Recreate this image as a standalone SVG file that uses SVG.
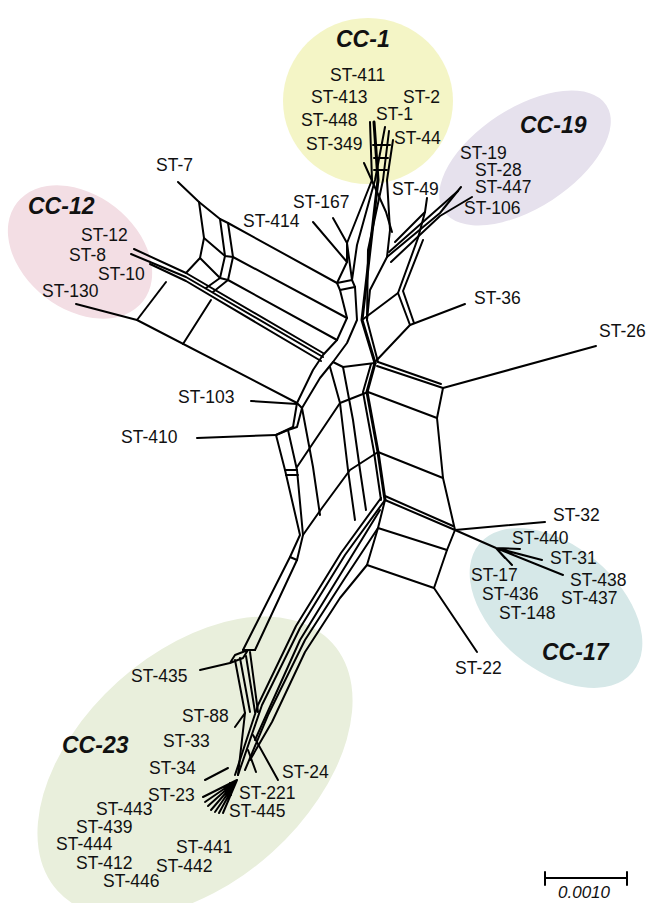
<svg xmlns="http://www.w3.org/2000/svg" width="652" height="903" viewBox="0 0 652 903">
<style>
.lbl{font-family:"Liberation Sans",Arial,sans-serif;font-size:17.5px;fill:#111}
.cc{font-family:"Liberation Sans",Arial,sans-serif;font-size:23px;font-weight:bold;font-style:italic;fill:#111}
.net path{fill:none;stroke:#000;stroke-width:2;stroke-linejoin:round;stroke-linecap:round}
.net path.thick{stroke-width:3}
.sc{font-family:"Liberation Sans",Arial,sans-serif;font-size:17px;font-style:italic;fill:#111}
</style>
<rect width="652" height="903" fill="#fff"/>
<g id="clusters">
<ellipse id="cc1" cx="368" cy="101" rx="85" ry="83" fill="#f4f5c6"/>
<ellipse id="cc19" cx="525" cy="158" rx="97" ry="50" transform="rotate(-33 525 158)" fill="#e6e1ed"/>
<ellipse id="cc12" cx="80" cy="252" rx="80" ry="57" transform="rotate(38 80 252)" fill="#f3dee4"/>
<ellipse id="cc17" cx="556" cy="608" rx="100" ry="62" transform="rotate(40 556 608)" fill="#d6e8e8"/>
<ellipse id="cc23" cx="195" cy="767" rx="185" ry="115" transform="rotate(-42 195 767)" fill="#e9efdc"/>
</g>
<g id="connectors" class="net">
<path d="M178,182 L199,202 L220,219 L228,223 L337,283"/>
<path d="M199,202 L204,238 L200,258 L186,273"/>
<path d="M220,219 L225,256 L220,278 L206,288"/>
<path d="M228,223 L233,257 L228,280 L213,292"/>
<path d="M204,238 L225,256 L233,257 L347,318"/>
<path d="M200,258 L220,278 L228,280 L337,340"/>
<path d="M134,249 L186,273 L323,353"/>
<path d="M131,254 L186,277 L323,357"/>
<path d="M150,264 L186,281 L321,361"/>
<path d="M76,304 L137,320 L297,403"/>
<path d="M137,320 L166,282"/>
<path d="M183,344 L211,300"/>
<path d="M251,401 L297,404"/>
<path d="M197,438 L276,435"/>
<path d="M337,283 L340,290 L347,318 L337,340 L323,355 L313,370 L297,403 L293,427 L276,435 L285,470 L300,535 L290,557 L243,650"/>
<path d="M352,280 L355,287 L357,320 L347,343 L333,362 L320,378 L302,408 L297,427 L288,430 L297,470 L303,535 L297,560 L255,650"/>
<path d="M340,290 L355,287 M337,283 L352,280 M297,403 L302,408 M276,435 L288,430 M285,470 L297,470 M286,475 L298,475 M290,557 L297,560 M243,650 L255,650"/>
<path d="M333,218 L347,243 L352,280"/>
<path d="M313,222 L347,262 L337,283"/>
<path d="M347,243 L347,262"/>
<path d="M370,122 L372,180 L347,243"/>
<path class="thick" d="M374,122 L378,180 L362,320 L375,363"/>
<path d="M385,127 L375,180 L357,245 L352,280"/>
<path d="M389,131 L383,180 L368,250 L367,320 L378,362"/>
<path d="M393,140 L387,180 L390,230 L387,257"/>
<path d="M364,163 L386,212 L392,232"/>
<path d="M373,145 L390,145 M374,158 L388,158 M374,170 L387,170"/>
<path d="M461,187 L440,213 L387,257"/>
<path d="M472,197 L440,216 L391,262"/>
<path d="M458,191 L389,252"/>
<path d="M427,198 L425,212 L395,242"/>
<path d="M425,212 L418,238 L398,293 L410,325"/>
<path d="M423,240 L403,291 L414,323"/>
<path d="M398,293 L362,320"/>
<path d="M387,257 L370,290 L367,320"/>
<path d="M465,304 L410,325 L375,362"/>
<path d="M596,346 L443,388 L377,366"/>
<path d="M441,384 L378,362"/>
<path d="M443,388 L437,418 L443,478 L455,530"/>
<path d="M437,418 L368,392 L340,403 L297,467"/>
<path d="M443,478 L378,452 L350,470 L322,508 L303,535"/>
<path class="thick" d="M375,363 L367,392 L378,452 L385,500"/>
<path d="M371,364 L363,392 L374,452 L381,500"/>
<path d="M455,530 L385,500"/>
<path d="M453,526 L385,496"/>
<path d="M455,530 L545,522"/>
<path d="M455,530 L447,550 L434,588 L477,652"/>
<path d="M447,550 L378,528"/>
<path d="M434,588 L367,565"/>
<path d="M455,530 L496,548 L520,549 M496,548 L542,560 M496,548 L563,575 M496,548 L512,565 M496,548 L505,558"/>
<path d="M333,362 L343,367 L375,363"/>
<path d="M330,367 L340,403 L348,470 L355,520"/>
<path d="M343,367 L353,420 L360,470 L366,510"/>
<path d="M302,408 L313,467 L320,515"/>
<path d="M385,500 L378,528 L367,565"/>
<path d="M385,500 L345,555 L300,628 L262,705 L238,775"/>
<path d="M381,498 L341,553 L296,626 L258,705 L235,775"/>
<path d="M378,528 L345,578 L305,640 L268,715 L245,770"/>
<path d="M367,565 L340,598 L305,652 L272,722 L250,760"/>
<path d="M380,510 L300,640 L255,740"/>
<path d="M200,670 L230,663 L235,655 L248,650 L243,658 L230,663"/>
<path d="M235,660 L245,713 M240,658 L250,712 M246,656 L255,712 M250,652 L258,712"/>
<path d="M235,727 L245,713 L238,775"/>
<path d="M205,780 L228,768"/>
<path d="M278,780 L253,735"/>
<path d="M256,772 L248,750"/>
<path d="M230,783 L231,795"/>
<path d="M237,780 L203,797 M237,780 L205,802 M237,780 L208,806 M237,780 L211,810 M237,780 L215,812 M237,780 L219,813 M237,780 L223,813"/>
<path d="M545,878 L627,878 M545,872 L545,885 M627,872 L627,885"/>
</g>
<g id="labels">
<text class="cc" x="336" y="47">CC-1</text>
<text class="lbl" x="330" y="81">ST-411</text>
<text class="lbl" x="311" y="103">ST-413</text>
<text class="lbl" x="403" y="103">ST-2</text>
<text class="lbl" x="376" y="120">ST-1</text>
<text class="lbl" x="301" y="126">ST-448</text>
<text class="lbl" x="394" y="144">ST-44</text>
<text class="lbl" x="306" y="150">ST-349</text>
<text class="lbl" x="392" y="195">ST-49</text>
<text class="lbl" x="293" y="208">ST-167</text>
<text class="lbl" x="243" y="227">ST-414</text>
<text class="lbl" x="156" y="171">ST-7</text>
<text class="cc" x="520" y="133">CC-19</text>
<text class="lbl" x="460" y="159">ST-19</text>
<text class="lbl" x="475" y="176">ST-28</text>
<text class="lbl" x="475" y="193">ST-447</text>
<text class="lbl" x="464" y="214">ST-106</text>
<text class="cc" x="28" y="214">CC-12</text>
<text class="lbl" x="81" y="241">ST-12</text>
<text class="lbl" x="69" y="261">ST-8</text>
<text class="lbl" x="98" y="280">ST-10</text>
<text class="lbl" x="42" y="297">ST-130</text>
<text class="lbl" x="474" y="304">ST-36</text>
<text class="lbl" x="599" y="337">ST-26</text>
<text class="lbl" x="178" y="403">ST-103</text>
<text class="lbl" x="121" y="443">ST-410</text>
<text class="lbl" x="553" y="521">ST-32</text>
<text class="lbl" x="512" y="544">ST-440</text>
<text class="lbl" x="550" y="564">ST-31</text>
<text class="lbl" x="471" y="581">ST-17</text>
<text class="lbl" x="570" y="586">ST-438</text>
<text class="lbl" x="482" y="600">ST-436</text>
<text class="lbl" x="561" y="604">ST-437</text>
<text class="lbl" x="499" y="619">ST-148</text>
<text class="cc" x="542" y="660">CC-17</text>
<text class="lbl" x="455" y="674">ST-22</text>
<text class="lbl" x="131" y="682">ST-435</text>
<text class="lbl" x="182" y="722">ST-88</text>
<text class="cc" x="62" y="753">CC-23</text>
<text class="lbl" x="163" y="747">ST-33</text>
<text class="lbl" x="149" y="774">ST-34</text>
<text class="lbl" x="282" y="778">ST-24</text>
<text class="lbl" x="148" y="801">ST-23</text>
<text class="lbl" x="239" y="799">ST-221</text>
<text class="lbl" x="229" y="817">ST-445</text>
<text class="lbl" x="96" y="815">ST-443</text>
<text class="lbl" x="76" y="833">ST-439</text>
<text class="lbl" x="56" y="850">ST-444</text>
<text class="lbl" x="176" y="853">ST-441</text>
<text class="lbl" x="76" y="869">ST-412</text>
<text class="lbl" x="156" y="872">ST-442</text>
<text class="lbl" x="103" y="887">ST-446</text>
<text class="sc" x="558" y="898">0.0010</text>
</g>
</svg>
